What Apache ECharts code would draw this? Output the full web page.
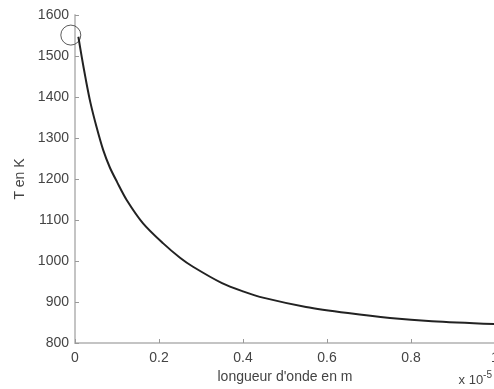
<!DOCTYPE html>
<html>
<head>
<meta charset="utf-8">
<script src="https://cdn.jsdelivr.net/npm/echarts@6/dist/echarts.min.js"></script>
<style>
html, body { margin: 0; padding: 0; background: #fff; }
#chart1 { width: 494px; height: 389px; }
</style>
</head>
<body>
<div id="chart1"></div>
<script>
// longueur d'onde (x 1e-5 m) et temperature (K)
var lambdaVals = [0.008, 0.016, 0.026, 0.037, 0.051, 0.067, 0.083, 0.1, 0.123, 0.162, 0.21, 0.25, 0.281, 0.35, 0.4, 0.45, 0.55, 0.65, 0.75, 0.85, 1.0];
var tempVals = [1547, 1498, 1441, 1385, 1328, 1271, 1228, 1193, 1149, 1092, 1043, 1008, 986, 946, 926, 910, 888, 873, 861, 853, 846];
var startPoint = [-0.01, 1551];
var xTicks = [0, 0.2, 0.4, 0.6, 0.8, 1];
var yTicks = [800, 900, 1000, 1100, 1200, 1300, 1400, 1500, 1600];

var lineData = lambdaVals.map(function (x, i) { return [x, tempVals[i]]; });

var axisGray = '#c4c4c4';
var labelColor = '#444';

var option = {
	animation: false,
	backgroundColor: '#fff',
	grid: { left: 75, top: 15, right: -1, bottom: 46, outerBoundsMode: 'none', containLabel: false },
	xAxis: {
		type: 'value',
		min: xTicks[0],
		max: xTicks[xTicks.length - 1],
		interval: 0.2,
		name: "longueur d'onde en m",
		nameLocation: 'middle',
		nameGap: 24,
		nameTextStyle: { fontFamily: 'Liberation Sans', fontSize: 14, color: labelColor },
		axisLine: { show: true, lineStyle: { color: axisGray, width: 2 } },
		axisTick: { show: true, inside: true, length: 4, lineStyle: { color: '#999' } },
		axisLabel: {
			margin: 8, fontFamily: 'Liberation Sans', fontSize: 14, color: labelColor,
			formatter: function (v) { return String(Math.round(v * 10) / 10); }
		},
		splitLine: { show: false }
	},
	yAxis: {
		type: 'value',
		min: yTicks[0],
		max: yTicks[yTicks.length - 1],
		interval: 100,
		name: 'T en K',
		nameLocation: 'middle',
		nameGap: 48,
		nameTextStyle: { fontFamily: 'Liberation Sans', fontSize: 14, color: labelColor },
		axisLine: { show: true, lineStyle: { color: axisGray, width: 2 } },
		axisTick: { show: true, inside: true, length: 4, lineStyle: { color: '#999' } },
		axisLabel: {
			margin: 6, fontFamily: 'Liberation Sans', fontSize: 14, color: labelColor,
			formatter: function (v) { return String(v); }
		},
		splitLine: { show: false }
	},
	graphic: [{
		type: 'text',
		right: 2,
		bottom: 2,
		style: {
			text: '{b|x 10}{s|-5}',
			rich: {
				b: { fontFamily: 'Liberation Sans', fontSize: 13, fill: labelColor },
				s: { fontFamily: 'Liberation Sans', fontSize: 10, fill: labelColor, verticalAlign: 'top', padding: [0, 0, 10, 0] }
			}
		}
	}],
	series: [{
		type: 'line',
		data: lineData,
		smooth: 0.3,
		showSymbol: false,
		lineStyle: { color: '#222', width: 2 }
	}, {
		type: 'scatter',
		data: [startPoint],
		clip: false,
		symbol: 'circle',
		symbolSize: 20,
		itemStyle: { color: 'rgba(255,255,255,0)', borderColor: '#333', borderWidth: 1 }
	}]
};
var chart1 = echarts.init(document.getElementById('chart1'));
chart1.setOption(option);
</script>
</body>
</html>
